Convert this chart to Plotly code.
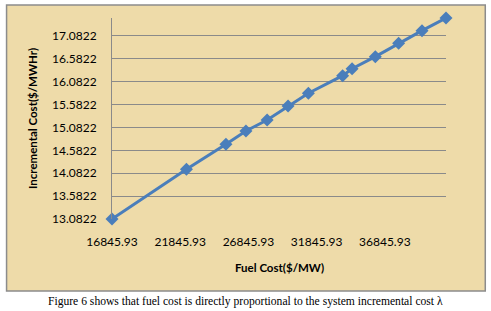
import plotly.graph_objects as go

# Data
fuel_cost = [16845.93, 22304, 25198, 26663, 28216, 29754, 31242,
             33754, 34443, 36150, 37857, 39571, 41330]
incremental_cost = [13.0822, 14.168, 14.717, 15.005, 15.246, 15.552, 15.830,
                    16.214, 16.367, 16.630, 16.922, 17.198, 17.475]

x_ticks = [16845.93, 21845.93, 26845.93, 31845.93, 36845.93]
x_tick_labels = ["16845.93", "21845.93", "26845.93", "31845.93", "36845.93"]
y_ticks = [13.0822, 13.5822, 14.0822, 14.5822, 15.0822, 15.5822, 16.0822, 16.5822, 17.0822]
y_tick_labels = ["13.0822", "13.5822", "14.0822", "14.5822", "15.0822",
                 "15.5822", "16.0822", "16.5822", "17.0822"]

x_title = "Fuel Cost($/MW)"
y_title = "Incremental Cost($/MWHr)"
caption = "Figure 6 shows that fuel cost is directly proportional to the system incremental cost λ"

W, H = 491, 311
L, R, T, B = 111.5, 445.7, 18, 219  # plot area in pixels

def px_x(p):
    return (p - L) / (R - L)

def px_y(p):
    return (B - p) / (B - T)

FONT = "Lato, Open Sans, sans-serif"

fig = go.Figure()
fig.add_trace(go.Scatter(
    x=fuel_cost, y=incremental_cost, mode="lines+markers",
    line=dict(color="#4A7EBB", width=3),
    marker=dict(symbol="diamond", size=10, color="#4A7EBB"),
    showlegend=False, cliponaxis=False,
))

fig.update_layout(
    width=W, height=H,
    margin=dict(l=L, r=W - R, t=T, b=H - B, pad=0),
    paper_bgcolor="white",
    plot_bgcolor="rgba(0,0,0,0)",
    font=dict(family=FONT, size=12, color="black"),
    shapes=[dict(
        type="rect", xref="paper", yref="paper", layer="below",
        x0=px_x(6), x1=px_x(485), y0=px_y(291), y1=px_y(5),
        fillcolor="#EEDBA9", line=dict(color="#8C8C8C", width=1.5),
    )],
    annotations=[
        dict(text=y_title, xref="paper", yref="paper", x=px_x(32), y=0.5,
             textangle=-90, showarrow=False, xanchor="center", yanchor="middle",
             font=dict(size=11.5, family=FONT, weight="bold")),
        dict(text=x_title, xref="paper", yref="paper", x=0.5, y=px_y(267),
             showarrow=False, xanchor="center", yanchor="middle",
             font=dict(size=11.5, family=FONT, weight="bold")),
        dict(text=caption, xref="paper", yref="paper", x=px_x(245.5), y=px_y(301.5),
             showarrow=False, xanchor="center", yanchor="middle",
             font=dict(size=11.6, family="Liberation Serif, Times New Roman, serif")),
    ],
)

fig.update_xaxes(
    range=[fuel_cost[0], fuel_cost[-1]],
    tickvals=x_ticks, ticktext=x_tick_labels,
    showgrid=False, zeroline=False, showline=False,
    ticks="", ticklabelstandoff=14,
)
fig.update_yaxes(
    range=[incremental_cost[0], incremental_cost[-1]],
    tickvals=y_ticks, ticktext=y_tick_labels,
    showgrid=True, gridcolor="#8A8A8A", gridwidth=1,
    zeroline=False, showline=True, linecolor="#8A8A8A", linewidth=1,
    ticks="", ticklabelstandoff=12,
)

fig.write_html(
    "out.html",
    config={"displayModeBar": False},
    post_script="document.body.style.margin='0';document.body.style.overflow='hidden';",
)
